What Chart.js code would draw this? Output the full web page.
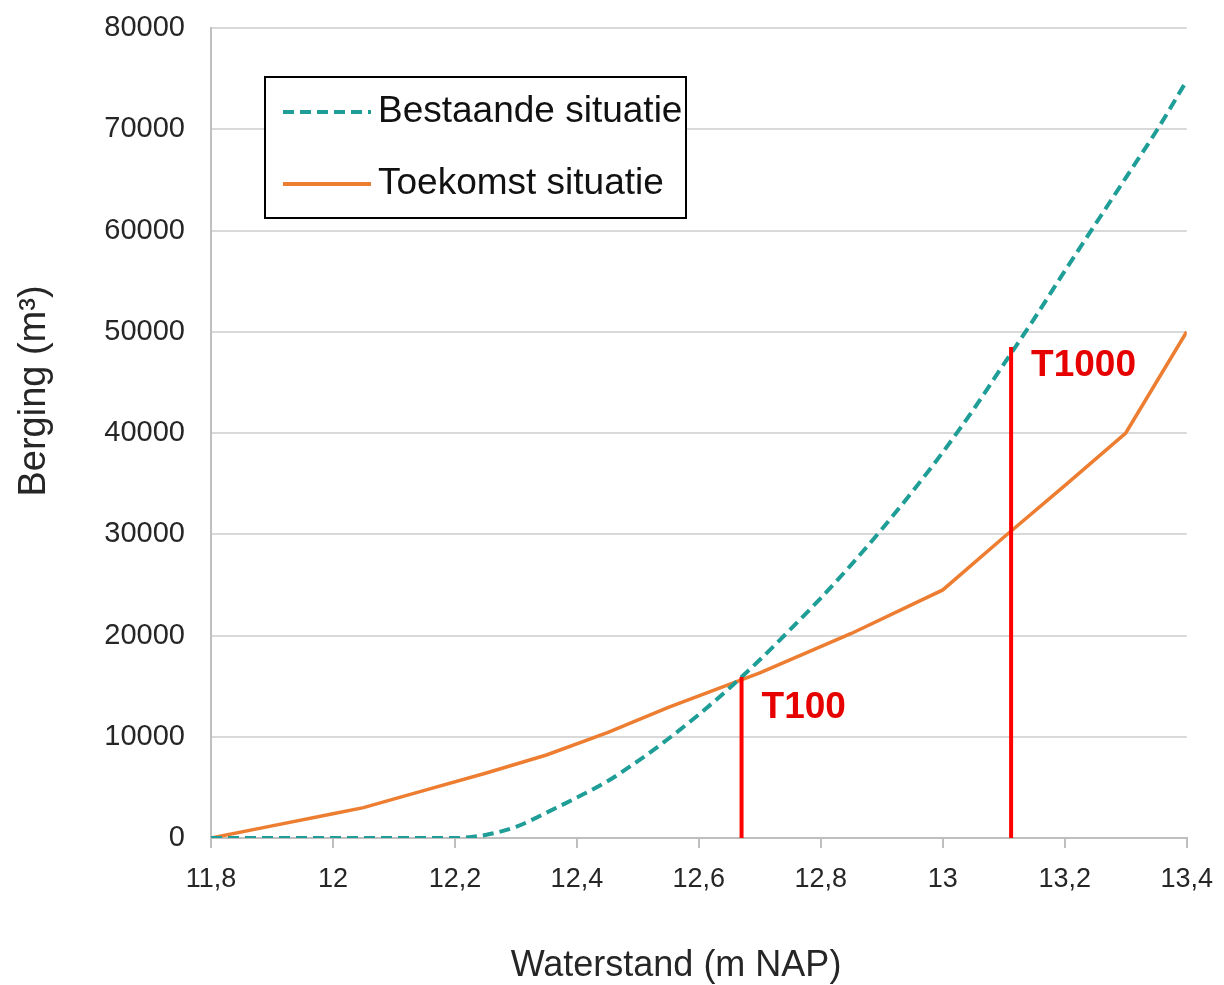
<!DOCTYPE html>
<html>
<head>
<meta charset="utf-8">
<script src="https://cdn.jsdelivr.net/npm/chart.js@4/dist/chart.umd.min.js"></script>
<style>
  body { margin: 0; background: #fff; }
  #wrap { width: 1224px; height: 985px; }
</style>
</head>
<body>
<div id="wrap"><canvas id="bergingChart"></canvas></div>
<script>
// Waterstand (m NAP) en berging (m3)
const bestaandeX = [11.8, 11.85, 11.9, 11.95, 12.0, 12.05, 12.1, 12.15, 12.2, 12.25, 12.3, 12.35, 12.4, 12.45, 12.5,
    12.55, 12.6, 12.65, 12.7, 12.75, 12.8, 12.85, 12.9, 12.95, 13.0, 13.05, 13.1, 13.15, 13.2, 13.25, 13.3, 13.35, 13.4];
const bestaandeY = [0, 0, 0, 0, 0, 0, 0, 0, 0, 300, 1100, 2500, 4000, 5600, 7600,
    9800, 12200, 14800, 17600, 20600, 23700, 27000, 30500, 34200, 38100, 42300, 46800, 51300, 56000, 60600, 65200, 69800, 74800];

const toekomstX = [11.8, 11.9, 12.0, 12.05, 12.15, 12.25, 12.35, 12.45, 12.55, 12.7, 12.85, 13.0, 13.1, 13.2, 13.3, 13.4];
const toekomstY = [0, 1200, 2400, 3000, 4700, 6400, 8200, 10400, 12900, 16300, 20200, 24500, 29700, 34800, 40000, 50000];

const markerNames = ["T100", "T1000"];
const markerX = [12.67, 13.112];
const markerTop = [15900, 48500];

const xTicks = [11.8, 12, 12.2, 12.4, 12.6, 12.8, 13, 13.2, 13.4];
const yTicks = [0, 10000, 20000, 30000, 40000, 50000, 60000, 70000, 80000];

const seriesNames = ["Bestaande situatie", "Toekomst situatie"];
const xTitle = "Waterstand (m NAP)";
const yTitle = "Berging (m³)";
const teal = "#1f9d97";
const orange = "#ed7d31";
const red = "#ff0000";
const textColor = "#262626";
const sans = "'Liberation Sans', Arial, sans-serif";

const toPoints = (xs, ys) => xs.map((x, i) => ({ x: x, y: ys[i] }));

const markerSets = markerX.map((x, i) => ({
    label: markerNames[i],
    data: [{ x: x, y: 0 }, { x: x, y: markerTop[i] }],
    borderColor: red,
    borderWidth: 4,
    pointRadius: 0,
    order: 0
}));

// rode labels naast de lijnen
const markerLabels = {
    id: "markerLabels",
    afterDatasetsDraw(chart) {
        const { ctx, scales: { x, y } } = chart;
        const dy = [31, 19];
        ctx.save();
        ctx.font = "bold 37px " + sans;
        ctx.fillStyle = "#e60000";
        ctx.textBaseline = "middle";
        markerNames.forEach((name, i) => {
            ctx.fillText(name, x.getPixelForValue(markerX[i]) + 20, y.getPixelForValue(markerTop[i]) + dy[i]);
        });
        ctx.restore();
    }
};

// astitels, iets uit het midden zoals in het origineel
const axisTitles = {
    id: "axisTitles",
    afterDraw(chart) {
        const { ctx, chartArea } = chart;
        ctx.save();
        ctx.fillStyle = textColor;
        ctx.textAlign = "center";
        ctx.textBaseline = "middle";
        ctx.font = "36px " + sans;
        ctx.fillText(xTitle, chartArea.left + 465, 966);
        ctx.translate(35, chartArea.top + 363);
        ctx.rotate(-Math.PI / 2);
        ctx.font = "38px " + sans;
        ctx.fillText(yTitle, 0, 0);
        ctx.restore();
    }
};

// legenda in een kader, zoals in Excel
const boxLegend = {
    id: "boxLegend",
    afterDraw(chart) {
        const { ctx, chartArea } = chart;
        const left = chartArea.left + 54, top = chartArea.top + 49;
        const w = 421, h = 141;
        ctx.save();
        ctx.fillStyle = "#fff";
        ctx.fillRect(left, top, w, h);
        ctx.strokeStyle = "#000";
        ctx.lineWidth = 2;
        ctx.strokeRect(left, top, w, h);
        const rows = [top + 35, top + 107];
        const colors = [teal, orange];
        rows.forEach((ry, i) => {
            ctx.beginPath();
            ctx.strokeStyle = colors[i];
            ctx.lineWidth = 4;
            ctx.setLineDash(i === 0 ? [11, 6] : []);
            ctx.moveTo(left + 18, ry);
            ctx.lineTo(left + 106, ry);
            ctx.stroke();
            ctx.setLineDash([]);
            ctx.fillStyle = "#111";
            ctx.font = "37px " + sans;
            ctx.textBaseline = "middle";
            ctx.fillText(seriesNames[i], left + 113, ry);
        });
        ctx.restore();
    }
};

new Chart(document.getElementById("bergingChart"), {
    type: "line",
    data: {
        datasets: [
            {
                label: seriesNames[0],
                data: toPoints(bestaandeX, bestaandeY),
                borderColor: teal,
                borderWidth: 4,
                borderDash: [11, 6],
                pointRadius: 0,
                cubicInterpolationMode: "monotone",
                order: 1
            },
            {
                label: seriesNames[1],
                data: toPoints(toekomstX, toekomstY),
                borderColor: orange,
                borderWidth: 3.5,
                pointRadius: 0,
                tension: 0,
                order: 2
            },
            ...markerSets
        ]
    },
    options: {
        responsive: true,
        maintainAspectRatio: false,
        animation: false,
        layout: { padding: { top: 28, right: 37, left: 0, bottom: 0 } },
        plugins: { legend: { display: false }, tooltip: { enabled: false } },
        scales: {
            x: {
                type: "linear",
                min: 11.8,
                max: 13.4,
                afterFit: s => { s.height = 147; },
                afterBuildTicks: s => { s.ticks = xTicks.map(v => ({ value: v })); },
                ticks: {
                    color: textColor,
                    padding: 11,
                    maxRotation: 0,
                    font: { family: sans, size: 27, lineHeight: 1.5 },
                    callback: v => String(Math.round(v * 10) / 10).replace(".", ",")
                },
                grid: { drawOnChartArea: false, drawTicks: true, tickLength: 10, color: "#bfbfbf", lineWidth: 2 },
                border: { color: "#bfbfbf", width: 2 }
            },
            y: {
                min: 0,
                max: 80000,
                afterFit: s => { s.width = 211; },
                afterBuildTicks: s => { s.ticks = yTicks.map(v => ({ value: v })); },
                ticks: {
                    color: textColor,
                    padding: 0,
                    font: { family: sans, size: 29 },
                    callback: v => String(v)
                },
                grid: { drawTicks: true, tickLength: 26, tickColor: "rgba(0,0,0,0)", color: "#d9d9d9", lineWidth: 2 },
                border: { color: "#bfbfbf", width: 2 }
            }
        }
    },
    plugins: [markerLabels, boxLegend, axisTitles]
});
</script>
</body>
</html>
